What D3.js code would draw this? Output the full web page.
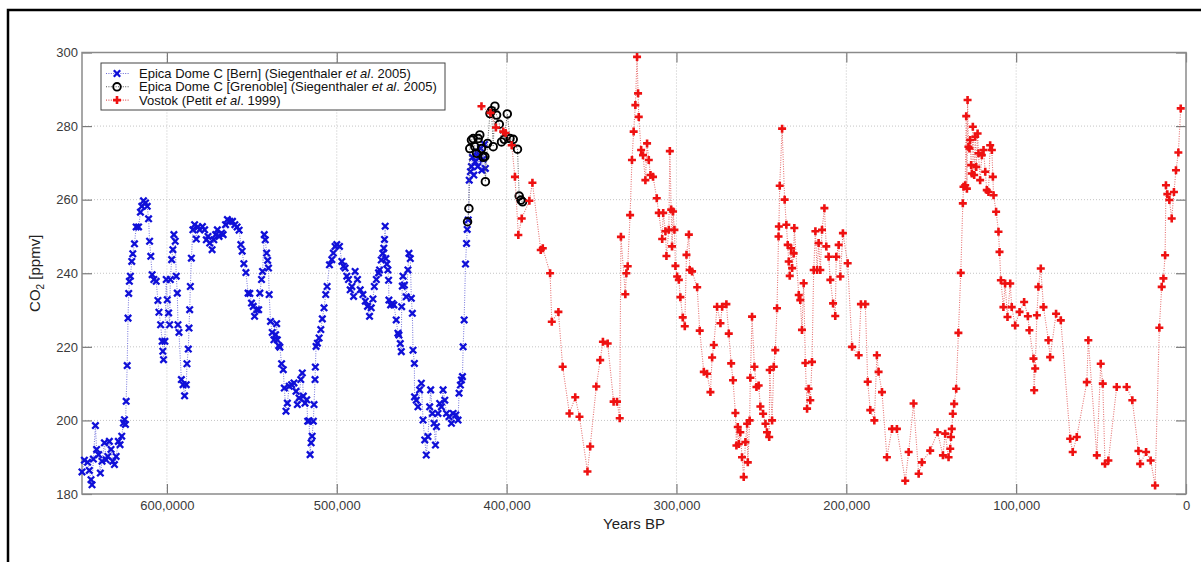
<!DOCTYPE html>
<html>
<head>
<meta charset="utf-8">
<script src="https://cdn.jsdelivr.net/npm/d3@7"></script>
<style>
  body { margin: 0; background: #fff; }
  svg { display: block; font-family: "Liberation Sans", Arial, sans-serif; }
</style>
</head>
<body>
<svg id="chart" width="1201" height="562"></svg>
<script>
// Ice-core CO2 records, age in kyr BP and CO2 in ppmv
const bern = [
  [650.0,186.0],[648.6,189.2],[646.7,188.6],[645.7,186.4],[644.7,183.9],[644.1,182.5],[643.3,189.5],[642.1,198.6],
  [641.4,192.1],[640.2,190.7],[639.2,185.7],[638.2,188.9],[636.8,193.9],[635.8,189.3],[634.8,190.2],[633.9,194.3],
  [632.9,192.1],[631.9,188.9],[630.9,188.0],[629.9,190.2],[628.6,194.3],[627.6,193.4],[626.6,195.7],[625.6,199.3],
  [625.0,200.2],[624.4,198.9],[624.0,205.2],[623.4,214.9],[622.9,227.8],[622.5,234.5],[622.1,237.8],[621.5,239.2],
  [620.7,243.2],[620.1,245.3],[619.1,248.0],[618.1,252.6],[616.7,252.6],[615.6,256.6],[614.8,258.2],[613.8,259.7],
  [612.6,259.1],[611.6,258.2],[610.8,254.8],[610.2,248.7],[609.5,244.6],[608.7,239.6],[607.7,238.3],[606.3,237.8],
  [605.3,232.6],[604.7,229.4],[603.7,226.0],[602.8,221.5],[602.4,218.8],[602.0,216.5],[601.2,221.5],[600.4,238.3],
  [599.8,232.8],[599.0,229.2],[598.4,226.0],[598.0,238.3],[597.2,243.7],[596.5,246.4],[595.9,250.5],[595.1,248.7],
  [594.5,239.2],[593.9,234.6],[593.5,226.0],[592.9,223.9],[591.5,211.1],[590.5,209.7],[589.6,206.7],[588.6,209.7],
  [588.2,215.4],[587.4,219.4],[587.0,225.1],[586.6,230.1],[586.2,236.4],[585.6,244.1],[584.7,251.8],[583.7,253.2],
  [582.7,249.3],[581.7,252.6],[580.7,251.8],[579.1,252.7],[577.8,251.8],[576.8,249.1],[575.8,250.0],[574.8,248.2],
  [573.4,246.4],[572.4,249.1],[571.3,250.5],[570.3,251.8],[569.3,250.0],[567.9,250.9],[566.9,250.5],[565.5,253.2],
  [564.4,254.6],[563.0,254.1],[561.4,254.1],[560.0,253.2],[558.7,252.6],[557.5,251.7],[556.5,247.8],[555.7,246.0],
  [554.7,242.6],[553.5,240.2],[552.2,234.6],[551.2,234.5],[550.2,231.9],[549.2,231.0],[548.4,228.3],[547.2,230.1],
  [546.0,230.1],[545.3,234.6],[544.3,238.3],[543.7,240.5],[542.7,250.5],[542.1,249.1],[541.3,245.5],[540.7,243.5],
  [540.2,241.4],[539.8,234.2],[539.0,226.9],[538.0,223.9],[537.0,221.9],[536.0,223.3],[535.4,226.3],[535.0,221.9],
  [534.2,220.3],[533.5,219.9],[532.5,215.4],[531.5,213.8],[530.9,208.8],[529.9,202.5],[529.1,204.7],[528.0,209.3],
  [526.6,209.7],[525.2,210.2],[524.0,207.9],[523.2,204.3],[522.2,206.1],[521.2,211.1],[520.3,212.9],[519.7,206.6],
  [518.7,204.7],[517.7,205.6],[517.1,199.8],[516.3,199.9],[515.7,190.7],[515.1,193.9],[514.5,195.7],[513.8,199.8],
  [513.4,204.3],[512.8,211.1],[512.6,214.5],[512.2,220.1],[511.4,221.0],[510.4,222.4],[509.4,224.7],[508.5,227.6],
  [507.5,230.6],[506.5,234.2],[505.7,236.4],[504.3,242.3],[502.9,243.7],[502.0,245.5],[501.0,247.3],[500.0,247.8],
  [498.4,247.3],[497.0,243.2],[496.0,241.9],[495.1,241.4],[494.1,239.2],[493.1,238.3],[492.1,235.5],[491.1,236.4],
  [490.1,233.7],[489.2,240.5],[487.8,238.3],[486.2,235.5],[484.6,234.2],[483.2,232.4],[481.9,231.0],[480.7,228.3],
  [479.7,230.6],[478.7,233.0],[477.9,236.4],[476.7,238.3],[475.4,240.1],[474.8,240.9],[473.8,243.6],[472.9,245.4],
  [472.3,246.8],[471.9,249.2],[471.5,252.8],[471.1,244.0],[470.5,242.5],[469.9,240.9],[469.5,238.1],[469.3,232.7],
  [468.3,231.4],[467.3,231.8],[466.4,231.4],[465.0,227.3],[464.0,223.7],[463.4,223.2],[462.6,220.9],[462.0,218.7],
  [461.8,230.9],[461.4,236.5],[461.0,239.2],[460.2,236.8],[459.1,233.6],[458.1,240.9],[457.5,245.4],[456.7,244.0],
  [456.1,233.2],[455.5,229.1],[455.1,219.1],[454.3,215.5],[454.2,206.4],[453.2,205.5],[452.2,203.7],[451.2,208.3],
  [450.2,210.1],[449.2,200.1],[448.2,194.7],[447.3,190.6],[446.3,195.6],[445.3,203.7],[444.7,208.3],[443.7,201.9],
  [442.7,199.2],[441.9,193.3],[441.3,198.3],[440.4,201.9],[439.4,204.6],[438.4,203.7],[437.4,208.3],[436.4,205.5],
  [435.4,201.9],[433.9,201.0],[432.5,199.2],[431.5,201.9],[429.9,201.5],[428.6,200.1],[428.0,207.4],[427.2,209.6],
  [426.6,211.0],[426.0,211.9],[425.6,220.0],[425.0,227.3],[424.2,242.5],[423.6,248.1],[423.2,251.9],[422.6,254.5],
  [422.0,265.3],[421.3,267.6],[420.7,269.0],[420.1,271.5],[419.3,266.7],[418.5,270.3],[417.7,273.0],[417.0,269.0],
  [416.2,271.5],[415.4,274.0],[414.6,268.0],[413.8,271.0],[413.0,275.0],[412.5,268.5]
];

const grenoble = [
  [423.0,254.0],[422.2,257.6],[421.7,273.9],[420.7,276.2],[419.7,276.6],[418.7,274.4],[417.7,272.6],[416.7,276.6],
  [415.8,277.6],[414.8,273.9],[413.8,271.5],[412.8,271.7],[412.5,264.9],[411.2,275.3],[409.8,283.4],[408.9,284.2],
  [407.9,274.4],[406.9,285.4],[405.9,283.0],[404.3,280.5],[403.0,275.7],[401.4,276.4],[399.6,283.3],[398.0,276.6],
  [396.1,276.4],[393.6,273.7],[392.6,261.0],[391.6,259.9],[390.6,259.4]
];

const vostok = [
  [414.8,285.4],[409.5,283.6],[406.3,279.6],[402.0,278.5],[400.6,278.1],[397.0,274.8],[395.1,266.2],[393.1,250.4],
  [391.1,254.9],[386.6,259.7],[384.8,264.6],[379.9,246.3],[378.7,246.8],[374.4,240.0],[373.4,226.8],[369.5,229.5],
  [367.0,214.6],[363.0,201.9],[359.6,206.3],[357.1,201.0],[352.4,186.1],[350.8,192.9],[347.2,209.2],[344.9,216.4],
  [343.3,221.4],[340.5,220.9],[337.0,205.1],[335.0,205.1],[333.4,200.6],[332.7,249.9],[330.1,234.3],[329.5,240.0],
  [328.7,241.9],[327.3,255.8],[326.2,270.8],[325.2,278.5],[324.2,285.7],[323.2,298.8],[322.6,288.9],[322.2,282.5],
  [320.8,273.5],[319.7,272.1],[318.3,265.3],[317.3,275.3],[316.3,270.8],[315.3,266.7],[313.8,266.2],[311.6,260.4],
  [310.4,256.4],[308.4,249.3],[307.8,256.4],[306.5,251.4],[305.9,244.7],[304.5,251.8],[303.9,273.2],[303.1,257.3],
  [302.6,247.3],[302.0,256.8],[301.2,251.8],[300.6,242.0],[299.6,239.1],[298.6,238.2],[297.7,233.5],[296.3,228.0],
  [295.1,225.6],[294.1,245.0],[292.7,250.5],[292.2,240.9],[290.8,240.5],[287.8,236.2],[286.3,224.4],[283.9,213.2],
  [282.0,212.7],[280.0,207.7],[279.0,217.1],[278.0,220.5],[276.1,230.9],[274.1,226.4],[273.1,230.9],[270.6,231.6],
  [269.2,223.6],[267.8,215.5],[266.7,210.9],[265.3,202.0],[264.7,193.2],[263.9,198.2],[263.3,193.6],[262.4,196.8],
  [261.4,190.0],[260.4,184.6],[259.4,194.1],[258.4,199.1],[258.0,188.6],[256.9,200.0],[256.5,211.6],[255.5,228.2],
  [254.1,214.6],[252.9,209.1],[251.6,209.5],[250.6,203.8],[249.0,201.8],[247.6,199.1],[246.7,196.8],[245.4,195.5],
  [245.1,213.7],[243.7,200.0],[242.7,214.6],[241.8,219.1],[240.8,230.5],[239.9,250.0],[239.7,252.7],[239.2,263.8],
  [237.8,279.3],[236.3,260.0],[235.3,253.2],[234.5,247.7],[233.9,243.2],[233.3,239.3],[232.5,246.8],[231.9,241.4],
  [231.0,245.4],[230.6,252.3],[228.0,234.1],[227.1,232.7],[226.1,224.6],[225.1,237.3],[224.1,215.6],[223.1,203.2],
  [222.2,208.6],[221.2,205.5],[220.2,215.9],[219.2,240.9],[218.2,251.4],[217.2,240.9],[216.3,248.2],[215.3,240.9],
  [214.3,251.8],[212.9,257.7],[211.8,247.3],[210.4,244.5],[209.4,238.2],[207.8,231.8],[206.5,228.4],[205.9,244.5],
  [204.5,247.7],[203.5,239.1],[202.0,250.9],[199.2,242.7],[196.6,220.0],[192.7,217.7],[191.4,231.6],[188.8,231.6],
  [187.4,210.5],[185.9,202.8],[183.5,200.0],[182.0,217.7],[181.0,213.2],[179.0,207.7],[176.1,190.0],[173.1,197.7],
  [170.2,197.7],[165.3,183.6],[163.3,191.4],[160.4,204.6],[157.4,185.5],[155.5,188.6],[150.6,191.8],[146.3,196.8],
  [143.1,190.5],[141.8,196.4],[139.8,190.0],[138.8,192.3],[138.4,195.5],[137.9,197.7],[137.3,201.8],[136.5,204.5],
  [135.3,208.6],[134.0,223.8],[132.6,240.1],[131.4,259.0],[131.0,263.5],[130.0,263.9],[129.4,282.7],[129.0,263.0],
  [128.6,287.1],[128.1,274.4],[127.5,273.9],[127.1,276.2],[126.5,269.4],[126.1,267.1],[125.5,279.8],[124.7,266.7],
  [124.1,277.1],[123.5,268.9],[122.7,278.0],[122.2,272.6],[121.2,265.3],[120.2,272.1],[119.2,273.5],[118.2,267.6],
  [117.3,262.6],[116.3,262.1],[115.3,274.8],[114.3,273.5],[113.7,266.2],[113.3,261.2],[111.8,256.7],[110.4,251.3],
  [109.8,245.8],[109.0,238.1],[107.5,230.8],[106.5,237.2],[105.1,228.1],[103.5,237.2],[102.6,230.8],[100.6,225.8],
  [98.0,229.5],[95.3,232.2],[93.1,228.3],[92.2,224.5],[89.8,216.8],[89.4,208.2],[88.8,214.1],[87.8,228.6],
  [86.9,236.3],[85.5,241.3],[83.9,230.8],[81.0,221.8],[80.0,217.2],[76.5,229.0],[73.7,227.2],[68.2,195.0],
  [66.7,191.4],[64.3,195.5],[58.4,210.4],[57.5,221.8],[52.5,190.5],[50.2,215.4],[49.0,210.0],[47.7,188.2],
  [45.7,189.1],[40.8,209.1],[34.9,209.1],[31.6,205.5],[28.0,191.7],[27.0,188.2],[23.5,191.4],[20.8,189.1],
  [18.2,182.3],[15.7,225.2],[14.3,236.3],[13.3,238.6],[12.3,244.9],[11.8,263.9],[11.0,261.5],[9.8,259.9],
  [8.4,254.9],[7.1,262.1],[5.9,268.0],[4.5,272.8],[3.1,284.8]
];

const xTicks = [600000, 500000, 400000, 300000, 200000, 100000, 0];
const xTickLabels = ["600,0000", "500,000", "400,000", "300,000", "200,000", "100,000", "0"];
const yTicks = [180, 200, 220, 240, 260, 280, 300];
const legendLabels = [
  ["Epica Dome C [Bern] (Siegenthaler ", "et al", ". 2005)"],
  ["Epica Dome C [Grenoble] (Siegenthaler ", "et al", ". 2005)"],
  ["Vostok (Petit ", "et al", ". 1999)"]
];

const svg = d3.select("#chart");
const W = 1201, H = 562;
const plot = { left: 82, right: 1186, top: 52.5, bottom: 494 };

const x = d3.scaleLinear().domain([650000, 0]).range([plot.left, plot.right]);
const y = d3.scaleLinear().domain([180, 300]).range([plot.bottom, plot.top]);

// outer black border
svg.append("rect")
  .attr("x", 8).attr("y", 10).attr("width", W + 20).attr("height", H + 20)
  .attr("fill", "none").attr("stroke", "#000").attr("stroke-width", 2.5);

// dotted grid
const grid = svg.append("g").attr("stroke", "#c4c4c4").attr("stroke-width", 1)
  .attr("stroke-dasharray", "1,2");
grid.selectAll("line.v").data(xTicks.slice(0, 6)).join("line").attr("class", "v")
  .attr("x1", d => x(d)).attr("x2", d => x(d)).attr("y1", plot.top).attr("y2", plot.bottom);
grid.selectAll("line.h").data(yTicks.slice(1, 6)).join("line").attr("class", "h")
  .attr("y1", d => y(d)).attr("y2", d => y(d)).attr("x1", plot.left).attr("x2", plot.right);

// axes with inward ticks on all four sides
function styleAxis(g) {
  g.selectAll(".domain").remove();
  g.selectAll(".tick line").attr("stroke", "#7a7a7a").attr("stroke-width", 1.2);
  g.selectAll(".tick text").attr("fill", "#3a3a3a").style("font-size", "13px")
    .style("font-family", "'Liberation Sans', Arial, sans-serif");
}
svg.append("g").attr("transform", `translate(0,${plot.bottom})`)
  .call(d3.axisBottom(x).tickValues(xTicks).tickFormat((d, i) => xTickLabels[i])
    .tickSizeInner(-10).tickSizeOuter(0).tickPadding(7))
  .call(styleAxis);
svg.append("g").attr("transform", `translate(0,${plot.top})`)
  .call(d3.axisTop(x).tickValues(xTicks).tickFormat("").tickSizeInner(-10).tickSizeOuter(0))
  .call(styleAxis);
svg.append("g").attr("transform", `translate(${plot.left},0)`)
  .call(d3.axisLeft(y).tickValues(yTicks).tickSizeInner(-10).tickSizeOuter(0).tickPadding(4))
  .call(styleAxis);
svg.append("g").attr("transform", `translate(${plot.right},0)`)
  .call(d3.axisRight(y).tickValues(yTicks).tickFormat("").tickSizeInner(-10).tickSizeOuter(0))
  .call(styleAxis);

// plot frame
svg.append("rect")
  .attr("x", plot.left).attr("y", plot.top)
  .attr("width", plot.right - plot.left).attr("height", plot.bottom - plot.top)
  .attr("fill", "none").attr("stroke", "#8a8a8a").attr("stroke-width", 1.5);

// series
const line = d3.line().x(d => x(d[0] * 1000)).y(d => y(d[1]));
const series = [
  { data: bern, lineColor: "#6a6ad8", markColor: "#1010d8", mark: "x" },
  { data: grenoble, lineColor: "#555", markColor: "#000", mark: "o" },
  { data: vostok, lineColor: "#e25a5a", markColor: "#ee1111", mark: "+" }
];
const markPath = {
  x: "M-3.2,-3.2L3.2,3.2M-3.2,3.2L3.2,-3.2",
  "+": "M-4,0L4,0M0,-4L0,4"
};
function drawMark(g, s) {
  if (s.mark === "o") {
    g.append("circle").attr("r", 3.8).attr("fill", "none")
      .attr("stroke", s.markColor).attr("stroke-width", 1.9);
  } else {
    g.append("path").attr("d", markPath[s.mark]).attr("fill", "none")
      .attr("stroke", s.markColor).attr("stroke-width", s.mark === "+" ? 2.6 : 2.3);
  }
}
series.forEach(s => {
  svg.append("path").datum(s.data).attr("d", line)
    .attr("fill", "none").attr("stroke", s.lineColor).attr("stroke-width", 1.1)
    .attr("stroke-dasharray", "1,1.4").attr("opacity", 0.85);
  const g = svg.append("g");
  g.selectAll("g").data(s.data).join("g")
    .attr("transform", d => `translate(${x(d[0] * 1000)},${y(d[1])})`)
    .each(function () { drawMark(d3.select(this), s); });
});

// legend
const lg = svg.append("g").attr("transform", "translate(101,63)");
lg.append("rect").attr("width", 344).attr("height", 47)
  .attr("fill", "#fff").attr("stroke", "#444").attr("stroke-width", 1);
series.forEach((s, i) => {
  const row = lg.append("g").attr("transform", `translate(0,${10.5 + i * 13.3})`);
  row.append("line").attr("x1", 5).attr("x2", 28).attr("y1", 0).attr("y2", 0)
    .attr("stroke", s.lineColor).attr("stroke-width", 1.1).attr("stroke-dasharray", "1,1.4");
  drawMark(row.append("g").attr("transform", "translate(16,0)"), s);
  const t = row.append("text").attr("x", 38).attr("y", 4.6)
    .style("font-size", "13px").attr("fill", "#111");
  t.append("tspan").text(legendLabels[i][0]);
  t.append("tspan").style("font-style", "italic").text(legendLabels[i][1]);
  t.append("tspan").text(legendLabels[i][2]);
});

// axis titles
svg.append("text").attr("x", (plot.left + plot.right) / 2).attr("y", 529)
  .attr("text-anchor", "middle").style("font-size", "15px").attr("fill", "#222")
  .text("Years BP");
const yl = svg.append("text").attr("transform", `translate(40,${(plot.top + plot.bottom) / 2}) rotate(-90)`)
  .attr("text-anchor", "middle").style("font-size", "15px").attr("fill", "#222");
yl.append("tspan").text("CO");
yl.append("tspan").attr("dy", 4).style("font-size", "10px").text("2");
yl.append("tspan").attr("dy", -4).text(" [ppmv]");
</script>
</body>
</html>
